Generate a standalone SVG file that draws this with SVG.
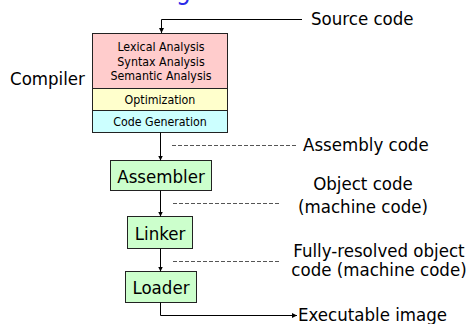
<svg xmlns="http://www.w3.org/2000/svg" width="473" height="324" viewBox="0 0 473 324">
<defs>
<style>
text{font-family:'DejaVu Sans Condensed','DejaVu Sans',sans-serif;font-stretch:condensed;fill:#000}
.big{font-size:18.5px}
.small{font-size:12.3px}
.box{stroke:#222;stroke-width:1}
.wire{fill:none;stroke:#000;stroke-width:1}
.dash{fill:none;stroke:#555;stroke-width:1;stroke-dasharray:4 2}
</style>
<marker id="ah" viewBox="0 0 6 6" refX="6" refY="3" markerWidth="5" markerHeight="5" orient="auto" markerUnits="userSpaceOnUse">
<path d="M0,0 L6,3 L0,6 z" fill="#000"/>
</marker>
</defs>
<rect width="473" height="324" fill="#fff"/>
<text x="176" y="-1.5" style="font-size:26px;fill:#2a2ae8">g</text>

<g id="compiler">
<rect class="box" x="92.5" y="33.5" width="135" height="55" fill="#ffcccc"/>
<rect class="box" x="92.5" y="88.5" width="135" height="22" fill="#ffffcc"/>
<rect class="box" x="92.5" y="110.5" width="135" height="22" fill="#ccffff"/>
<text class="small" x="161" y="51" text-anchor="middle">Lexical Analysis</text>
<text class="small" x="161" y="65.5" text-anchor="middle">Syntax Analysis</text>
<text class="small" x="161" y="80" text-anchor="middle">Semantic Analysis</text>
<text class="small" x="160" y="104" text-anchor="middle">Optimization</text>
<text class="small" x="160" y="126" text-anchor="middle">Code Generation</text>
<text class="big" x="10" y="85">Compiler</text>
</g>

<g id="assembler">
<rect class="box" x="110.5" y="160.5" width="101" height="30" fill="#ccffcc"/>
<text class="big" x="161" y="182.5" text-anchor="middle">Assembler</text>
</g>

<g id="linker">
<rect class="box" x="127.5" y="216.5" width="65" height="32" fill="#ccffcc"/>
<text class="big" x="160" y="239.5" text-anchor="middle">Linker</text>
</g>

<g id="loader">
<rect class="box" x="125.5" y="271.5" width="71" height="31" fill="#ccffcc"/>
<text class="big" x="161" y="293.5" text-anchor="middle">Loader</text>
</g>

<g id="labels">
<text class="big" x="311" y="25">Source code</text>
<text class="big" x="303" y="151">Assembly code</text>
<text class="big" x="363" y="190" text-anchor="middle">Object code</text>
<text class="big" x="363" y="213" text-anchor="middle">(machine code)</text>
<text class="big" x="379" y="257" text-anchor="middle">Fully-resolved object</text>
<text class="big" x="379" y="276" text-anchor="middle">code (machine code)</text>
<text class="big" x="298" y="321">Executable image</text>
</g>

<g id="connectors">
<path class="wire" d="M302,19.5 H161.5 V33" marker-end="url(#ah)"/>
<path class="wire" d="M160.5,132.5 V160.5" marker-end="url(#ah)"/>
<path class="wire" d="M160.5,190.5 V216.5" marker-end="url(#ah)"/>
<path class="wire" d="M160.5,248.5 V271.5" marker-end="url(#ah)"/>
<path class="wire" d="M160.5,302.5 V315.5 H297" marker-end="url(#ah)"/>
<path class="dash" d="M172,145.5 H297"/>
<path class="dash" d="M173,203.5 H280"/>
<path class="dash" d="M173,261.5 H280"/>
</g>
</svg>
